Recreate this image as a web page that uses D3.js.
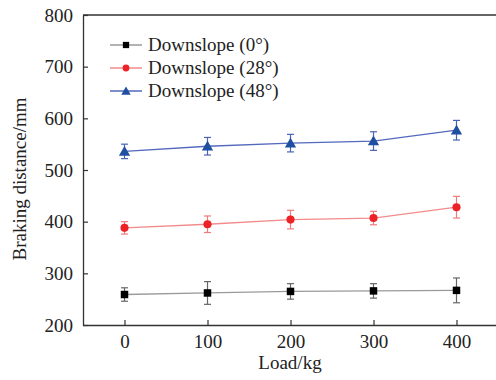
<!DOCTYPE html>
<html><head><meta charset="utf-8">
<script src="https://cdn.jsdelivr.net/npm/d3@7"></script>
<style>body{margin:0;background:#fff}svg{display:block}</style>
</head><body><svg id="c" width="496" height="380"></svg>
<script>
const loads = [0, 100, 200, 300, 400];
const xTicks = [0, 100, 200, 300, 400];
const yTicks = [200, 300, 400, 500, 600, 700, 800];
const seriesNames = ["Downslope (0°)", "Downslope (28°)", "Downslope (48°)"];
const s0 = [259, 262, 265, 266, 267];
const s0err = [13, 22, 15, 14, 24];
const s28 = [388, 395, 404, 407, 428];
const s28err = [12, 16, 18, 13, 21];
const s48 = [536, 546, 552, 556, 577];
const s48err = [14, 17, 17, 18, 19];
const lineColors = ["#9a9a9a", "#f28b8b", "#5468bd"];
const markColors = ["#000000", "#ec2227", "#1f4fa0"];
const errColors = ["#666666", "#f07a7a", "#4a63b5"];
const shapes = [d3.symbolSquare, d3.symbolCircle, d3.symbolTriangle];
const sizes = [56, 52, 55];

const svg = d3.select("#c");
const L = 83, T = 15, B = 325, R = 498;
const x = d3.scaleLinear().domain([-50, 450]).range([L, R]);
const y = d3.scaleLinear().domain([200, 800]).range([B, T]);
const font = "'Liberation Serif','Times New Roman',serif";
const axCol = "#333";
const fs = 19;

svg.append("line").attr("x1", L).attr("x2", 496).attr("y1", T).attr("y2", T)
  .attr("stroke", axCol).attr("stroke-width", 1.3);

const xa = svg.append("g").attr("transform", `translate(0,${B})`)
  .call(d3.axisBottom(x).tickValues(xTicks).tickSizeInner(-5).tickSizeOuter(0).tickPadding(10));
const ya = svg.append("g").attr("transform", `translate(${L},0)`)
  .call(d3.axisLeft(y).tickValues(yTicks).tickSizeInner(-5).tickSizeOuter(0).tickPadding(10));
[xa, ya].forEach(a => {
  a.select(".domain").attr("stroke", axCol).attr("stroke-width", 1.3);
  a.selectAll(".tick line").attr("stroke", axCol).attr("stroke-width", 1.2);
  a.selectAll("text").attr("font-family", font).attr("font-size", fs).attr("fill", "#222");
});
xa.select(".domain").attr("d", `M${L},0.5H496`);

svg.append("text").attr("x", 290).attr("y", 369).attr("text-anchor", "middle")
  .attr("font-family", font).attr("font-size", fs).attr("fill", "#222").text("Load/kg");
svg.append("text").attr("transform", `translate(26,179) rotate(-90)`)
  .attr("text-anchor", "middle").attr("font-family", font).attr("font-size", fs).attr("fill", "#222")
  .text("Braking distance/mm");

const data = [[s0, s0err], [s28, s28err], [s48, s48err]];
data.forEach(([vals, errs], i) => {
  const pts = loads.map((l, j) => ({ l, v: vals[j], e: errs[j] }));
  svg.append("path").datum(pts)
    .attr("d", d3.line().x(d => x(d.l)).y(d => y(d.v)))
    .attr("fill", "none").attr("stroke", lineColors[i]).attr("stroke-width", 1.3);
  const g = svg.append("g").attr("stroke", errColors[i]).attr("stroke-width", 1.2);
  pts.forEach(d => {
    g.append("line").attr("x1", x(d.l)).attr("x2", x(d.l)).attr("y1", y(d.v - d.e)).attr("y2", y(d.v + d.e));
    [d.v - d.e, d.v + d.e].forEach(v => g.append("line").attr("x1", x(d.l) - 3.5).attr("x2", x(d.l) + 3.5)
      .attr("y1", y(v)).attr("y2", y(v)));
  });
  svg.append("g").selectAll("path").data(pts).join("path")
    .attr("transform", d => `translate(${x(d.l)},${y(d.v) + (i === 2 ? 1 : 0)})`)
    .attr("d", d3.symbol().type(shapes[i]).size(sizes[i]))
    .attr("fill", markColors[i]);
});

seriesNames.forEach((n, i) => {
  const ly = 45 + i * 23;
  svg.append("line").attr("x1", 110).attr("x2", 142).attr("y1", ly).attr("y2", ly)
    .attr("stroke", lineColors[i]).attr("stroke-width", 1.5);
  svg.append("path").attr("transform", `translate(126,${ly + (i === 2 ? 1 : 0)})`)
    .attr("d", d3.symbol().type(shapes[i]).size(sizes[i] * 0.7)).attr("fill", markColors[i]);
  svg.append("text").attr("x", 148).attr("y", ly + 6).attr("font-family", font).attr("font-size", fs)
    .attr("fill", "#222").text(n);
});
</script></body></html>
